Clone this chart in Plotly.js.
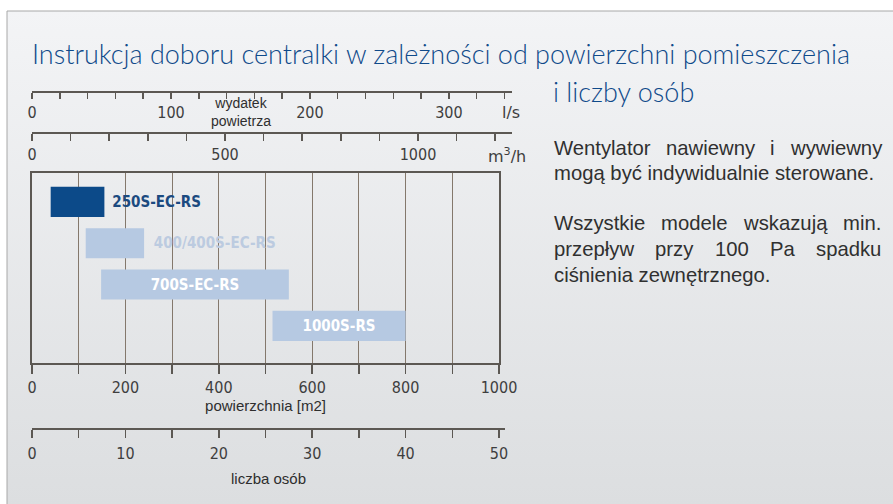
<!DOCTYPE html>
<html>
<head>
<meta charset="utf-8">
<script src="https://cdn.plot.ly/plotly-3.0.1.min.js"></script>
<style>
html,body{margin:0;padding:0;background:#fff}
#plot .xtick text, #plot .x2tick text, #plot .x3tick text, #plot .x4tick text, #plot .bartext, #plot .narrow text{font-stretch:condensed}
</style>
</head>
<body>
<div id="plot" style="width:893px;height:504px"></div>
<script>
// models and the floor area range (m2) each one covers
var models = ['250S-EC-RS', '400/400S-EC-RS', '700S-EC-RS', '1000S-RS'];
var areaFrom = [40, 115, 148, 515];
var areaTo = [155, 240, 550, 800];
var barColors = ['#0c4a89', '#b6c9e2', '#b6c9e2', '#b6c9e2'];
var labelColors = ['#1b4a80', '#bccbe0', '#ffffff', '#ffffff'];
var labelPos = ['outside', 'outside', 'inside', 'inside'];

// tick labels of the four scales
var areaTicks = [0, 200, 400, 600, 800, 1000];
var flowLsTicks = [0, 100, 200, 300];
var flowM3Ticks = [0, 500, 1000];
var peopleTicks = [0, 10, 20, 30, 40, 50];

var titleLine1 = 'Instrukcja doboru centralki w zależności od powierzchni pomieszczenia';
var titleLine2 = 'i liczby osób';
var noteLines = [
  {t: 'Wentylator nawiewny i wywiewny', y: 148, just: true},
  {t: 'mogą być indywidualnie sterowane.', y: 173, just: false},
  {t: 'Wszystkie modele wskazują min.', y: 223, just: true},
  {t: 'przepływ przy 100 Pa spadku', y: 249, just: true},
  {t: 'ciśnienia zewnętrznego.', y: 275, just: false}
];

var W = 893, H = 504;
function px(x) { return x / W; }
function py(y) { return 1 - y / H; }

var narrow = '"DejaVu Sans", sans-serif';
var sans = '"Liberation Sans", Arial, sans-serif';
var tickFont = {family: narrow, size: 16, color: '#3e3e3e'};
var axisCol = '#5c5853';
var gridCol = '#84786c';

var lengths = areaTo.map(function (v, i) { return v - areaFrom[i]; });

var bars = {
  type: 'bar',
  orientation: 'h',
  y: models,
  x: lengths,
  base: areaFrom,
  width: 0.73,
  marker: {color: barColors},
  text: models,
  textposition: labelPos,
  insidetextanchor: 'middle',
  textangle: 0,
  constraintext: 'none',
  cliponaxis: false,
  textfont: {family: narrow, size: 15, weight: 'bold', color: labelColors},
  hoverinfo: 'skip'
};

// empty traces so the three extra scales get their own subplots
function scaleTrace(n) {
  return {type: 'scatter', mode: 'markers', x: [], y: [], xaxis: 'x' + n, yaxis: 'y' + n, hoverinfo: 'skip'};
}

// justified note text, word by word
var ctx = document.createElement('canvas').getContext('2d');
var noteSize = 20.3;
ctx.font = noteSize + 'px "Liberation Sans"';
var noteLeft = 553, noteRight = 880;
var annotations = [];
noteLines.forEach(function (ln) {
  if (!ln.just) {
    annotations.push({text: ln.t, x: px(noteLeft), y: py(ln.y)});
    return;
  }
  var words = ln.t.split(' ');
  var widths = words.map(function (w) { return ctx.measureText(w).width; });
  var total = widths.reduce(function (a, b) { return a + b; }, 0);
  var gap = (noteRight - noteLeft - total) / (words.length - 1);
  var cx = noteLeft;
  words.forEach(function (w, i) {
    annotations.push({text: w, x: px(cx), y: py(ln.y)});
    cx += widths[i] + gap;
  });
});
annotations.forEach(function (a) {
  a.xref = 'paper'; a.yref = 'paper'; a.xanchor = 'left'; a.yanchor = 'middle';
  a.showarrow = false; a.borderpad = 0;
  a.font = {family: sans, size: noteSize, color: '#303030'};
});

var titleFont = {family: 'Lato, "Liberation Sans", sans-serif', size: 27, weight: 300, color: '#0f4a8a'};
annotations.push(
  {text: titleLine1, x: px(30), y: py(54), xref: 'paper', yref: 'paper', xanchor: 'left', yanchor: 'middle', showarrow: false, font: titleFont},
  {text: titleLine2, x: px(551), y: py(91), xref: 'paper', yref: 'paper', xanchor: 'left', yanchor: 'middle', showarrow: false, font: titleFont},
  {text: 'wydatek<br>powietrza', x: px(241), y: py(112), xref: 'paper', yref: 'paper', xanchor: 'center', yanchor: 'middle', showarrow: false,
    font: {family: sans, size: 14, color: '#2e2e2e'}},
  {text: 'l/s', x: px(511), y: py(113), xref: 'paper', yref: 'paper', xanchor: 'center', yanchor: 'middle', showarrow: false, font: tickFont},
  {text: 'm<sup>3</sup>/h', x: px(507), y: py(155), xref: 'paper', yref: 'paper', xanchor: 'center', yanchor: 'middle', showarrow: false, font: tickFont}
);

var bgSvg = "<svg xmlns='http://www.w3.org/2000/svg' width='10' height='10' preserveAspectRatio='none'>" +
  "<defs><linearGradient id='g' x1='0' y1='0' x2='0' y2='1'>" +
  "<stop offset='0' stop-color='#f3f4f6'/><stop offset='1' stop-color='#dcdee0'/></linearGradient></defs>" +
  "<rect width='10' height='10' fill='url(#g)'/></svg>";

function scaleAxis(domR, range, lineY, vals, minorStep, ticklen) {
  return {
    x: {
      domain: [px(32), px(domR)], range: range, side: 'bottom',
      tickmode: 'array', tickvals: vals, tickfont: tickFont,
      ticks: 'outside', ticklen: ticklen, tickwidth: 1.5, tickcolor: axisCol,
      minor: {dtick: minorStep, ticks: 'outside', ticklen: ticklen, tickwidth: 1.5, tickcolor: axisCol},
      showline: true, linecolor: axisCol, linewidth: 2,
      showgrid: false, zeroline: false, fixedrange: true
    },
    y: {domain: [py(lineY), py(lineY) + 0.01], visible: false, fixedrange: true}
  };
}

var ls = scaleAxis(512, [0, 345.4], 91, flowLsTicks, 20, 6);
var m3 = scaleAxis(512, [0, 1243.5], 132, flowM3Ticks, 100, 7);
var people = scaleAxis(505, [0, 50.64], 428, peopleTicks, 5, 8);
people.x.ticklabelstandoff = 2;
people.x.title = {text: 'liczba osób', font: {family: sans, size: 15, color: '#2e2e2e'}, standoff: 11};
ls.x.anchor = 'y2'; ls.y.anchor = 'x2';
m3.x.anchor = 'y3'; m3.y.anchor = 'x3';
people.x.anchor = 'y4'; people.y.anchor = 'x4';

var layout = {
  width: W, height: H,
  margin: {l: 0, r: 0, t: 0, b: 0},
  paper_bgcolor: '#ffffff',
  plot_bgcolor: '#fdf0d9',
  showlegend: false,
  font: {family: sans},
  xaxis: {
    domain: [px(32), px(499)], range: [0, 1000],
    tickmode: 'array', tickvals: areaTicks, tickfont: tickFont,
    ticks: 'outside', ticklen: 9, tickwidth: 1.5, tickcolor: axisCol,
    showgrid: true, gridcolor: gridCol, gridwidth: 1,
    minor: {dtick: 100, ticks: 'outside', ticklen: 9, tickwidth: 1.5, tickcolor: axisCol, showgrid: true, gridcolor: gridCol, gridwidth: 1},
    showline: true, mirror: true, linecolor: axisCol, linewidth: 2,
    zeroline: false, fixedrange: true,
    title: {text: 'powierzchnia [m2]', font: {family: sans, size: 15, color: '#2e2e2e'}, standoff: 1}
  },
  yaxis: {
    domain: [py(363), py(173)], type: 'category', range: [3.9, -0.7],
    showticklabels: false, ticks: '', showgrid: false, zeroline: false,
    showline: true, mirror: true, linecolor: axisCol, linewidth: 2, fixedrange: true
  },
  xaxis2: ls.x, yaxis2: ls.y,
  xaxis3: m3.x, yaxis3: m3.y,
  xaxis4: people.x, yaxis4: people.y,
  images: [{
    source: 'data:image/svg+xml;utf8,' + encodeURIComponent(bgSvg),
    xref: 'paper', yref: 'paper', x: px(7), y: py(11), sizex: px(886), sizey: 493 / H,
    xanchor: 'left', yanchor: 'top', sizing: 'stretch', layer: 'below'
  }],
  shapes: [{
    type: 'rect', xref: 'paper', yref: 'paper', x0: px(7), x1: px(895), y0: py(506), y1: py(11),
    line: {color: '#a8a8a8', width: 1}, fillcolor: 'rgba(0,0,0,0)', layer: 'below'
  }],
  annotations: annotations
};

Plotly.newPlot('plot', [bars, scaleTrace(2), scaleTrace(3), scaleTrace(4)], layout, {displayModeBar: false, staticPlot: true});
</script>
</body>
</html>
